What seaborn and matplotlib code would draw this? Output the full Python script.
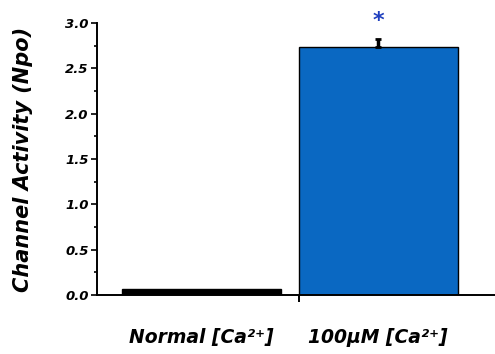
import matplotlib
matplotlib.use("Agg")
import matplotlib.pyplot as plt
import seaborn as sns
import pandas as pd
from matplotlib.ticker import MultipleLocator

categories = ["Normal [Ca\u00b2\u207a]", "100\u00b5M [Ca\u00b2\u207a]"]
values = [0.06, 2.73]
errors = [0.0, 0.09]
bar_colors = ["#000000", "#0a68c2"]

sns.set_style("ticks")
plt.rcParams['font.family'] = ['DejaVu Sans']
plt.rcParams['text.color'] = 'black'
plt.rcParams['axes.labelcolor'] = 'black'
plt.rcParams['xtick.color'] = 'black'
plt.rcParams['ytick.color'] = 'black'
plt.rcParams['axes.edgecolor'] = 'black'

df = pd.DataFrame({"cat": categories, "val": values})

fig = plt.figure(figsize=(4.95, 3.54), dpi=100)
ax = fig.add_axes([0.196, 0.167, 0.804, 0.768])
sns.barplot(data=df, x="cat", y="val", hue="cat", palette=bar_colors,
            saturation=1, width=0.9, edgecolor="black", linewidth=1.0,
            legend=False, ax=ax)
ax.errorbar([1], [values[1]], yerr=[[0], [errors[1]]], fmt="none",
            ecolor="black", elinewidth=2.5, capsize=2, capthick=2)
ax.text(1, values[1] + errors[1] + 0.09, "*", ha="center", va="bottom",
        color="#1f3fbf", fontsize=16, fontweight="bold")

ax.set_ylim(0, 3.0)
ax.set_xlim(-0.59, 1.66)
ax.yaxis.set_minor_locator(MultipleLocator(0.25))
ax.set_yticks([0, 0.5, 1.0, 1.5, 2.0, 2.5, 3.0])
ax.set_yticklabels(["0.0", "0.5", "1.0", "1.5", "2.0", "2.5", "3.0"],
                   fontsize=9.5, fontweight="bold", fontstyle="italic")
ax.tick_params(axis="y", which="major", length=4, width=1.2, pad=2)
ax.tick_params(axis="y", which="minor", length=2.5, width=1.2)
ax.set_xticks([0, 1])
ax.set_xticklabels(categories, fontsize=13.5, fontweight="bold", fontstyle="italic")
ax.tick_params(axis="x", which="major", length=0, pad=24)
ax.set_xticks([0.55], minor=True)
ax.tick_params(axis="x", which="minor", length=5, width=1.4)
ax.set_xlabel("")
ax.set_ylabel("Channel Activity (Npo)", fontsize=15, fontweight="bold",
              fontstyle="italic")
ax.yaxis.set_label_coords(-0.16, 0.5)
for s in ["top", "right"]:
    ax.spines[s].set_visible(False)
for s in ["left", "bottom"]:
    ax.spines[s].set_linewidth(1.4)

fig.savefig("out.png", dpi=100)
